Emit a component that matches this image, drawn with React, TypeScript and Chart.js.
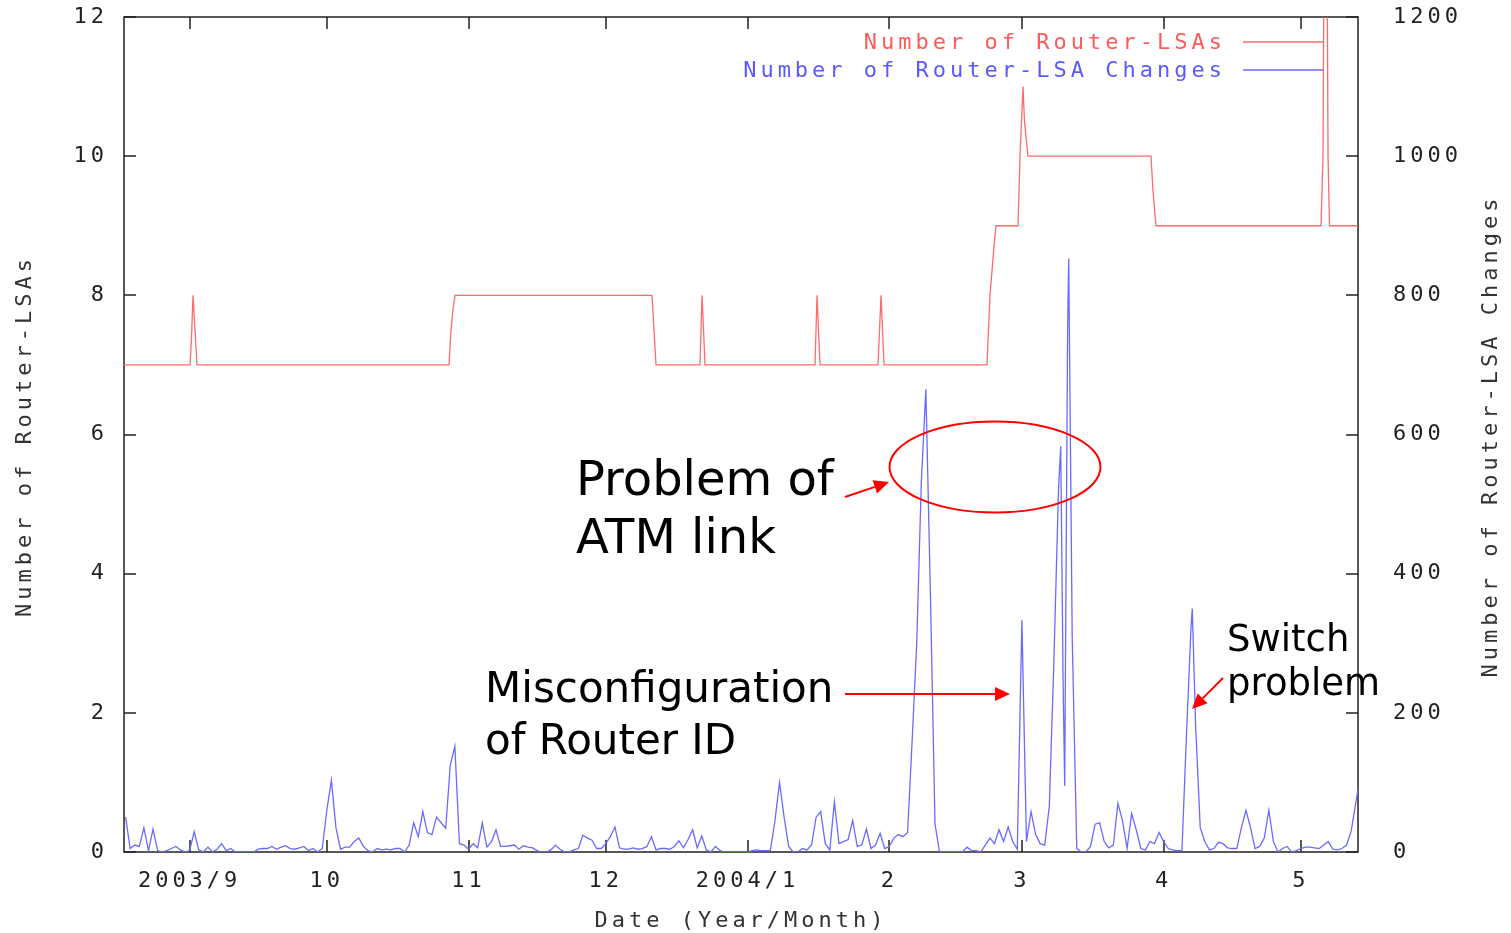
import React, { useEffect, useRef } from 'react';
import { Chart, registerables } from 'chart.js';

Chart.register(...registerables);

// x axis: days since 2003-09-01
const X_MIN_DAY = -14.35;
const X_MAX_DAY = 255.5;
const MONTH_TICK_DAYS = [0, 30, 61, 91, 122, 153, 182, 213, 243];
const MONTH_TICK_LABELS = ['2003/9', '10', '11', '12', '2004/1', '2', '3', '4', '5'];

// Number of Router-LSAs (left axis)
const LSA_DAYS = [
  -14.35, 0.09, 0.42, 0.74, 1.18, 1.62,
  56.72, 57.16, 57.6, 58.04,
  101.11, 101.55, 101.99,
  111.61, 112.05, 112.71,
  136.76, 137.2, 137.85,
  150.54, 151.2, 151.85,
  174.37, 175.02, 175.9, 176.34,
  181.15, 181.59, 182.24, 182.57, 183.33,
  210.23, 210.67, 211.33,
  247.41, 247.85, 248.07, 248.73, 248.95, 249.27,
  255.5,
];
const LSA_COUNTS = [
  7, 7, 7.4, 8, 7.5, 7,
  7, 7.5, 7.8, 8,
  8, 7.5, 7,
  7, 8, 7,
  7, 8, 7,
  7, 8, 7,
  7, 8, 8.7, 9,
  9, 10, 11, 10.5, 10,
  10, 9.5, 9,
  9, 10, 13, 13, 10, 9,
  9,
];

// Number of Router-LSA changes per day (right axis), first value is day -14
const CHANGE_FIRST_DAY = -14;
const DAILY_CHANGES = [
  50, 5, 10, 8, 35, 2, 33, 2, 0, 2, 5, 8, 3, 0, 2, 29, 3, 0, 7, 0, 4, 12, 2, 5, 0, 0, 0, 0, 0, 4, 5, 5, 8, 4, 7, 9, 5, 4, 6, 8, 2,
  5, 0, 5, 60, 103, 35, 4, 7, 7, 15,
  20, 8, 2, 0, 5, 3, 4, 3, 5, 5,
  0, 10, 42, 22, 58, 28, 25, 50, 42, 34,
  125, 152, 12, 10, 4, 12, 6, 42, 7, 15,
  32, 8, 8, 9, 10, 4, 9, 7, 6, 2,
  0, 0, 3, 10, 4, 0, 0, 3, 5, 24,
  20, 17, 5, 5, 12, 22, 36, 6, 4, 4,
  6, 4, 5, 8, 22, 3, 5, 5, 4, 8,
  16, 6, 18, 32, 6, 23, 3, 0, 8, 2,
  0, 0, 0, 0, 0, 0, 2, 3, 2, 2,
  2, 45, 100, 50, 8, 0, 0, 5, 3, 10,
  50, 58, 12, 3, 72, 12, 15, 18, 45, 8,
  10, 33, 5, 10, 27, 5, 8, 20, 25, 22,
  28, 160, 300, 530, 665, 370, 40, 0, 0, 0,
  0, 0, 0, 7, 2, 2, 0, 10, 20, 12,
  32, 15, 36, 15, 4, 333, 15, 58, 25, 12,
  10, 66, 275, 520, 250, 750, 310, 5, 0, 0,
  8, 40, 42, 15, 6, 10, 70, 45, 5, 55,
  32, 5, 3, 15, 12, 28, 15, 5, 3, 2,
  2, 170, 325, 180, 35, 15, 3, 5, 14, 12,
  6, 5, 5, 35, 60, 35, 5, 8, 20, 60,
  15, 0, 5, 8, 0, 2, 5, 7, 7, 6,
  5, 10, 15, 4, 3, 5, 10, 30, 70, 110,
];
// extra sub-daily samples around the sharpest peaks
const EXTRA_CHANGE_DAYS = [190.49, 191.36, 192.24, 219.26];
const EXTRA_CHANGES = [583, 95, 853, 350];

const LEGEND_LABELS = ['Number of Router-LSAs', 'Number of Router-LSA Changes'];
const AXIS_TITLE_LEFT = 'Number of Router-LSAs';
const AXIS_TITLE_RIGHT = 'Number of Router-LSA Changes';
const AXIS_TITLE_X = 'Date (Year/Month)';

const MONO = '"DejaVu Sans Mono", monospace';
const SANS = '"DejaVu Sans", Verdana, sans-serif';
const RED_LINE = '#ff6a6a';
const BLUE_LINE = '#6a6aff';
const AXIS_COLOR = '#222';
const SPACING = '4px';

function arrow(ctx: CanvasRenderingContext2D, x1: number, y1: number, x2: number, y2: number) {
  const len = 15, half = 7;
  const ang = Math.atan2(y2 - y1, x2 - x1);
  const bx = x2 - len * Math.cos(ang), by = y2 - len * Math.sin(ang);
  ctx.beginPath();
  ctx.moveTo(x1, y1);
  ctx.lineTo(bx, by);
  ctx.stroke();
  ctx.beginPath();
  ctx.moveTo(x2, y2);
  ctx.lineTo(bx + half * Math.sin(ang), by - half * Math.cos(ang));
  ctx.lineTo(bx - half * Math.sin(ang), by + half * Math.cos(ang));
  ctx.closePath();
  ctx.fill();
}

const decorPlugin = {
  id: 'decor',
  beforeUpdate(chart: any) { (chart.ctx as any).letterSpacing = SPACING; },
  beforeDraw(chart: any) { (chart.ctx as any).letterSpacing = SPACING; },
  beforeDatasetsDraw(chart: any) {
    const { ctx, chartArea: a, scales } = chart;
    ctx.save();
    ctx.strokeStyle = AXIS_COLOR;
    ctx.lineWidth = 1.5;
    ctx.strokeRect(a.left, a.top, a.right - a.left, a.bottom - a.top);
    ctx.beginPath();
    MONTH_TICK_DAYS.forEach((d) => {
      const px = Math.round(scales.x.getPixelForValue(d));
      ctx.moveTo(px, a.bottom); ctx.lineTo(px, a.bottom - 12);
      ctx.moveTo(px, a.top); ctx.lineTo(px, a.top + 12);
    });
    scales.y.ticks.forEach((t: any) => {
      const py = Math.round(scales.y.getPixelForValue(t.value));
      ctx.moveTo(a.left, py); ctx.lineTo(a.left + 12, py);
      ctx.moveTo(a.right, py); ctx.lineTo(a.right - 12, py);
    });
    ctx.stroke();
    ctx.restore();
  },
  afterDraw(chart: any) {
    const { ctx } = chart;
    ctx.save();
    // axis titles
    (ctx as any).letterSpacing = SPACING;
    ctx.font = `22px ${MONO}`;
    ctx.fillStyle = '#333';
    ctx.textAlign = 'center';
    ctx.textBaseline = 'middle';
    ctx.fillText(AXIS_TITLE_X, 741, 921);
    ctx.save();
    ctx.translate(25, 436);
    ctx.rotate(-Math.PI / 2);
    ctx.fillText(AXIS_TITLE_LEFT, 0, 0);
    ctx.restore();
    ctx.save();
    ctx.translate(1491, 436);
    ctx.rotate(-Math.PI / 2);
    ctx.fillText(AXIS_TITLE_RIGHT, 0, 0);
    ctx.restore();

    // legend
    const legendColors = ['#ff5a5a', '#5a5aff'];
    const lineColors = [RED_LINE, BLUE_LINE];
    [43, 71].forEach((y, i) => {
      ctx.textAlign = 'right';
      ctx.fillStyle = legendColors[i];
      ctx.fillText(LEGEND_LABELS[i], 1226, y);
      ctx.strokeStyle = lineColors[i];
      ctx.lineWidth = 1.3;
      ctx.beginPath();
      ctx.moveTo(1243, y - 1);
      ctx.lineTo(1323, y - 1);
      ctx.stroke();
    });

    // annotations
    (ctx as any).letterSpacing = '0px';
    ctx.fillStyle = '#000';
    ctx.textAlign = 'left';
    ctx.textBaseline = 'alphabetic';
    ctx.font = `48px ${SANS}`;
    ctx.fillText('Problem of', 576, 495);
    ctx.fillText('ATM link', 576, 553);
    ctx.font = `42px ${SANS}`;
    ctx.fillText('Misconfiguration', 485, 702);
    ctx.fillText('of Router ID', 485, 754);
    ctx.font = `37px ${SANS}`;
    ctx.fillText('Switch', 1227, 651);
    ctx.fillText('problem', 1227, 695);

    ctx.strokeStyle = '#ff0000';
    ctx.fillStyle = '#ff0000';
    ctx.lineWidth = 2;
    ctx.beginPath();
    ctx.ellipse(995, 467, 105.5, 45.5, 0, 0, Math.PI * 2);
    ctx.stroke();
    arrow(ctx, 845, 497, 889, 482);
    arrow(ctx, 845, 694, 1010, 694);
    arrow(ctx, 1223, 678, 1192, 709);
    ctx.restore();
  },
};

export default function App() {
  const canvasRef = useRef<HTMLCanvasElement | null>(null);

  useEffect(() => {
    const canvas = canvasRef.current;
    if (!canvas) return;
    const lsaPoints = LSA_DAYS.map((d, i) => ({ x: d, y: LSA_COUNTS[i] }));
    const changePoints = DAILY_CHANGES.map((v, i) => ({ x: CHANGE_FIRST_DAY + i, y: v }))
      .concat(EXTRA_CHANGE_DAYS.map((d, i) => ({ x: d, y: EXTRA_CHANGES[i] })))
      .sort((p, q) => p.x - q.x);

    const tickFont = { family: MONO, size: 22 };
    const fitVertical = (w: number) => (s: any) => {
      s.width = w;
      s.paddingTop = 0;
      s.paddingBottom = 0;
    };
    const chart = new Chart(canvas, {
      type: 'line',
      data: {
        datasets: [
          {
            label: LEGEND_LABELS[0],
            data: lsaPoints,
            borderColor: RED_LINE,
            borderWidth: 1.3,
            pointRadius: 0,
            tension: 0,
            yAxisID: 'y',
          },
          {
            label: LEGEND_LABELS[1],
            data: changePoints,
            borderColor: BLUE_LINE,
            borderWidth: 1.3,
            pointRadius: 0,
            tension: 0,
            yAxisID: 'y2',
          },
        ],
      },
      options: {
        responsive: false,
        animation: false,
        devicePixelRatio: 1,
        layout: { padding: { top: 17, left: 0, right: 0, bottom: 0 } },
        plugins: {
          legend: { display: false },
          tooltip: { enabled: false },
          title: { display: false },
        },
        scales: {
          x: {
            type: 'linear',
            position: 'bottom',
            min: X_MIN_DAY,
            max: X_MAX_DAY,
            grid: { display: false, drawTicks: false },
            border: { display: false },
            afterBuildTicks: (s: any) => {
              s.ticks = MONTH_TICK_DAYS.map((v) => ({ value: v }));
            },
            afterFit: (s: any) => {
              s.height = 81;
              s.paddingLeft = 0;
              s.paddingRight = 0;
            },
            ticks: {
              autoSkip: false,
              maxRotation: 0,
              minRotation: 0,
              padding: 16,
              color: AXIS_COLOR,
              font: tickFont,
              callback: (value: any) => {
                const idx = MONTH_TICK_DAYS.indexOf(Number(value));
                return idx >= 0 ? MONTH_TICK_LABELS[idx] : '';
              },
            },
          },
          y: {
            position: 'left',
            min: 0,
            max: 12,
            grid: { display: false, drawTicks: false },
            border: { display: false },
            afterFit: fitVertical(124),
            ticks: {
              stepSize: 2, padding: 16, color: AXIS_COLOR, font: tickFont,
              callback: (v: any) => String(v),
            },
          },
          y2: {
            position: 'right',
            min: 0,
            max: 1200,
            grid: { display: false, drawTicks: false },
            border: { display: false },
            afterFit: fitVertical(153),
            ticks: {
              stepSize: 200, padding: 35, color: AXIS_COLOR, font: tickFont,
              callback: (v: any) => String(v),
            },
          },
        },
      } as any,
      plugins: [decorPlugin],
    });
    return () => chart.destroy();
  }, []);

  return (
    <div style={{ position: 'absolute', left: 0, top: 0, width: 1511, height: 933, background: '#fff' }}>
      <canvas ref={canvasRef} width={1511} height={933} style={{ display: 'block' }} />
    </div>
  );
}
